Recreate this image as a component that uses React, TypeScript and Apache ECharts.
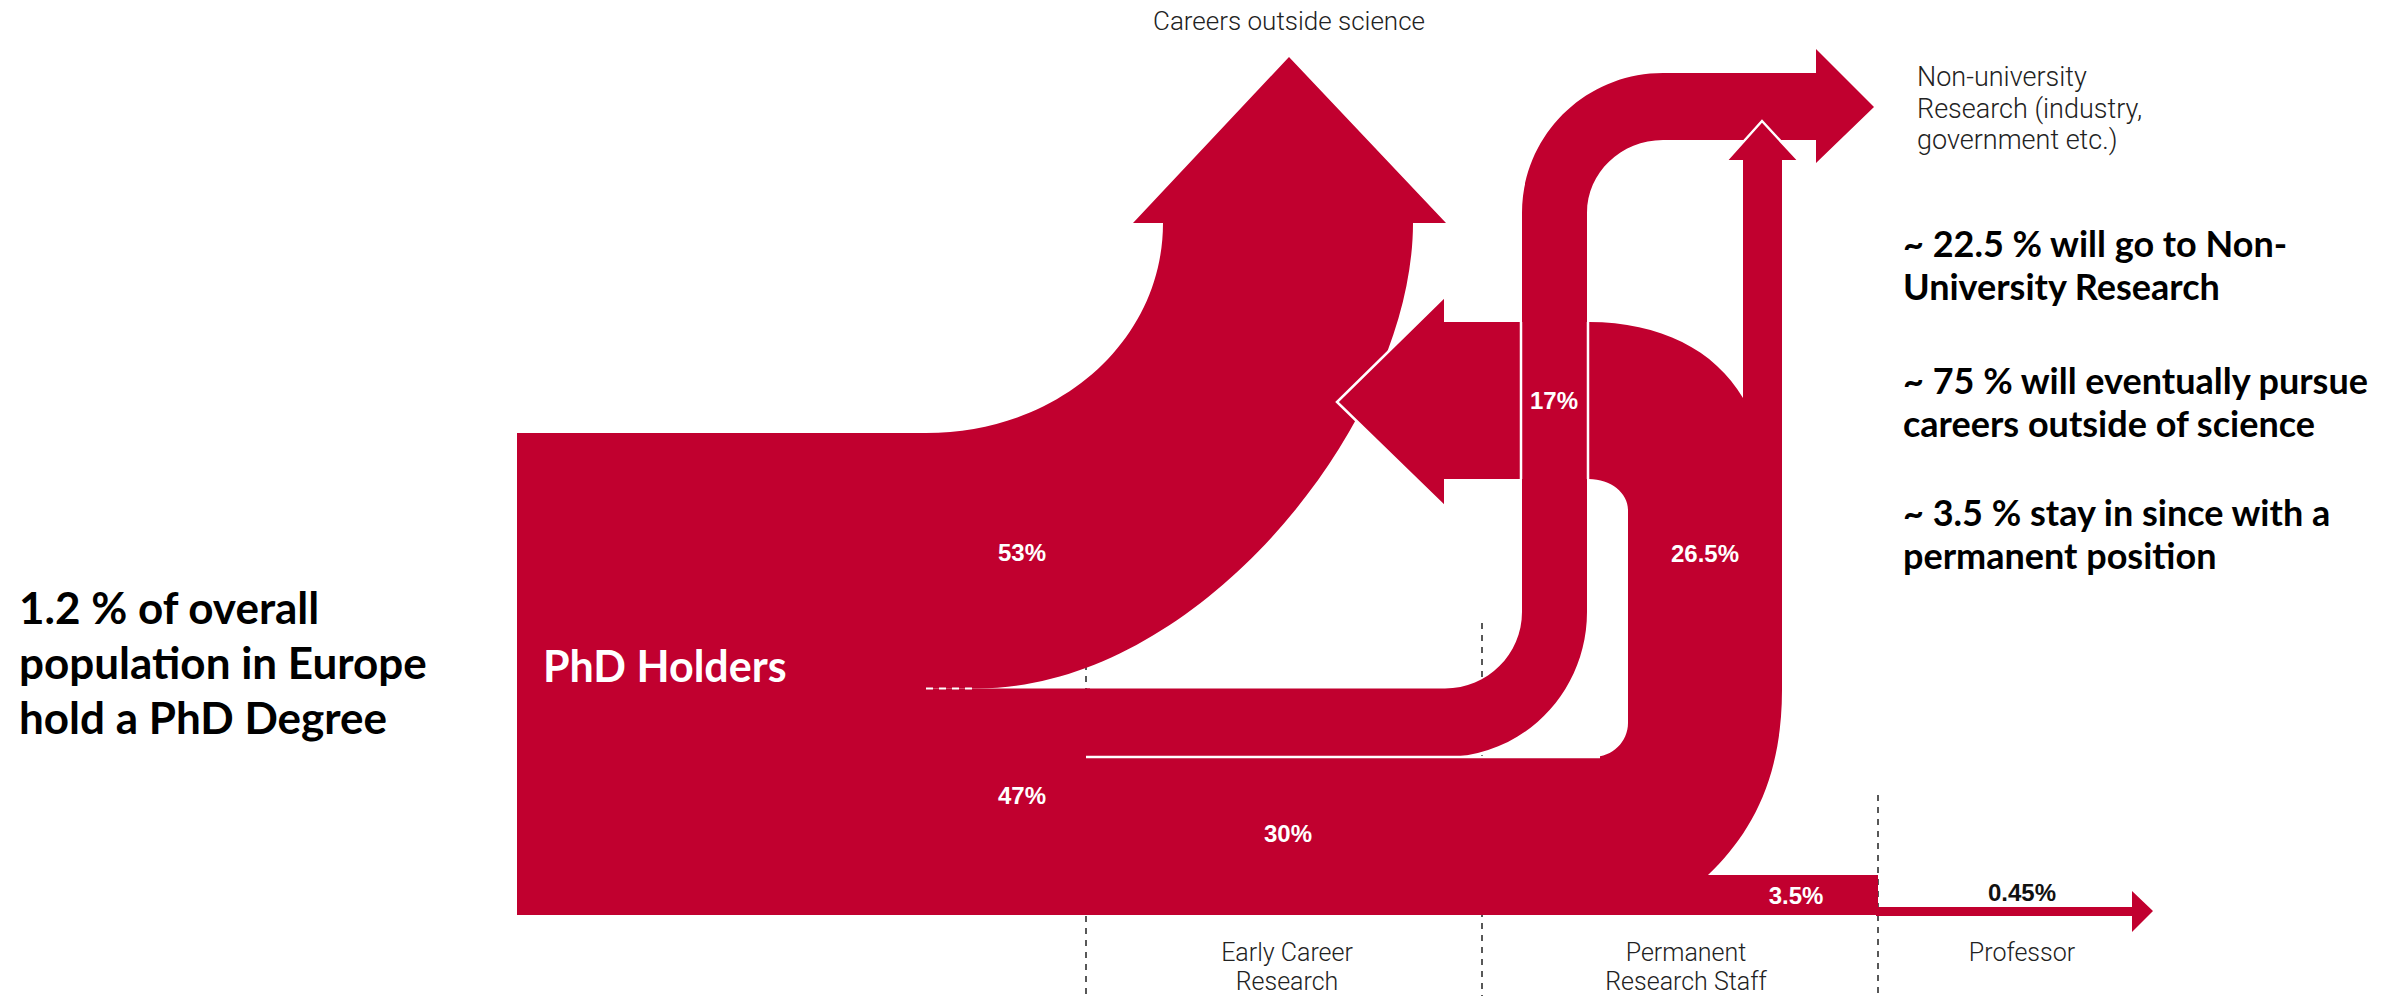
import React, { useEffect, useRef } from "react";
import * as echarts from "echarts";

// ---------------- data ----------------
const sourceLabel = "PhD Holders";
const flowNames = ["node", "toCareers", "toResearch", "toPermanent", "toNonUniversity", "toProfessor"];
const flowLabels = ["53%", "47%", "17%", "30%", "26.5%", "3.5%", "0.45%"];
const flowValues = [53, 47, 17, 30, 26.5, 3.5, 0.45];
const stageLabels = ["Early Career\nResearch", "Permanent\nResearch Staff", "Professor"];
const destinationLabels = ["Careers outside science", "Non-university\nResearch (industry,\ngovernment etc.)"];
const leftNoteLines = ["1.2 % of overall", "population in Europe", "hold a PhD Degree"];
const rightNoteParagraphs = [
  ["~ 22.5 % will go to Non-", "University Research"],
  ["~ 75 % will eventually pursue", "careers outside of science"],
  ["~ 3.5 % stay in since with a", "permanent position"],
];

// ---------------- layout (design pixels, mapped through the axes) ----------------
const WIDTH = 2384;
const HEIGHT = 996;
const RED = "#C1002F";
const NODE = { x0: 517, x1: 926, y0: 433, y1: 915 };
const SPLIT = NODE.y0 + ((NODE.y1 - NODE.y0) * flowValues[0]) / 100;

type Seg = (string | number)[];

const shapes: Record<string, Seg[]> = {
  node: [["M", NODE.x0, NODE.y0], ["L", NODE.x1, NODE.y0], ["L", NODE.x1, NODE.y1], ["L", NODE.x0, NODE.y1], ["Z"]],
  toCareers: [
    ["M", 924, NODE.y0], ["L", 926, NODE.y0], ["C", 1060, NODE.y0, 1163, 340, 1163, 223],
    ["L", 1133, 223], ["L", 1289, 57], ["L", 1446, 223], ["L", 1413, 223],
    ["C", 1413, 420, 1200, SPLIT, 977, SPLIT], ["L", 924, SPLIT], ["Z"],
  ],
  toResearch: [["M", 924, SPLIT], ["L", 1090, SPLIT], ["L", 1090, NODE.y1], ["L", 924, NODE.y1], ["Z"]],
  toPermanent: [
    ["M", 1086, 757], ["L", 1593, 757], ["K", 1628, 757, 1628, 723], ["L", 1628, 510],
    ["K", 1628, 479, 1589, 479], ["L", 1444, 479], ["L", 1444, 506], ["L", 1337, 402],
    ["L", 1444, 297], ["L", 1444, 322], ["L", 1589, 322], ["C", 1660, 322, 1715, 350, 1743, 398],
    ["L", 1743, 160], ["L", 1782, 160], ["L", 1782, 690], ["C", 1782, 780, 1750, 835, 1708, 875],
    ["L", 1878, 875], ["L", 1878, NODE.y1], ["L", 1086, NODE.y1], ["Z"],
  ],
  toNonUniversity: [
    ["M", 1086, SPLIT], ["L", 1445, SPLIT], ["K", 1522, SPLIT, 1522, 612], ["L", 1522, 213],
    ["K", 1522, 73, 1663, 73], ["L", 1816, 73], ["L", 1816, 49], ["L", 1874, 107], ["L", 1816, 163],
    ["L", 1816, 140], ["L", 1663, 140], ["K", 1587, 140, 1587, 213], ["L", 1587, 612],
    ["K", 1587, 757, 1445, 757], ["L", 1086, 757], ["Z"],
    ["M", 1727, 160], ["L", 1762, 121], ["L", 1798, 160], ["Z"],
  ],
  toProfessor: [
    ["M", 1876, 907], ["L", 2132, 907], ["L", 2132, 891], ["L", 2153, 911], ["L", 2132, 932],
    ["L", 2132, 916], ["L", 1876, 916], ["Z"],
  ],
};

const whiteLines: number[][][] = [
  [[1444, 297], [1337, 402], [1444, 506]],
  [[1727, 160], [1762, 121], [1798, 160]],
  [[1521, 322], [1521, 479]],
  [[1588, 322], [1588, 479]],
  [[1086, 757], [1600, 757]],
];
const whiteDashed: number[][] = [[926, SPLIT], [978, SPLIT]];

const dividerX = [1086, 1482, 1878];
const dividerTop = [640, 623, 795];
const stageLabelX = [1287, 1686, 2022];
const stageLabelY = 952;
const stageLineHeight = 29;
const labelPos = [[1022, 552], [1022, 795], [1554, 400], [1288, 833], [1705, 553], [1796, 895], [2022, 892]];
const labelColors = ["#fff", "#fff", "#fff", "#fff", "#fff", "#fff", "#111"];

const LABEL_FONT = '"Liberation Sans", Arial, sans-serif';
const CAPTION_FONT = "Roboto, sans-serif";
const NOTE_FONT = "Lato, sans-serif";

function toPath(segs: Seg[], api: any): string {
  let d = "";
  let cur = [0, 0];
  const f = (p: number[]) => {
    const c = api.coord(p);
    return c[0].toFixed(2) + " " + c[1].toFixed(2);
  };
  for (const s of segs) {
    const cmd = s[0] as string;
    const n = s.slice(1) as number[];
    if (cmd === "Z") {
      d += "Z ";
    } else if (cmd === "K") {
      const k = 0.5523;
      const [cx, cy, x, y] = n;
      const c1 = [cur[0] + k * (cx - cur[0]), cur[1] + k * (cy - cur[1])];
      const c2 = [x + k * (cx - x), y + k * (cy - y)];
      d += "C" + [c1, c2, [x, y]].map(f).join(" ") + " ";
      cur = [x, y];
    } else {
      const pts: number[][] = [];
      for (let i = 0; i < n.length; i += 2) pts.push([n[i], n[i + 1]]);
      d += cmd + pts.map(f).join(" ") + " ";
      cur = pts[pts.length - 1];
    }
  }
  return d;
}

function buildOption(): any {
  const graphic: any[] = [];
  leftNoteLines.forEach((t, i) => {
    graphic.push({
      type: "text", x: 19, y: 607 + i * 55,
      style: { text: t, fill: "#000", fontFamily: NOTE_FONT, fontWeight: "bold", fontSize: 44, align: "left", verticalAlign: "middle" },
    });
  });
  const paraY = [243, 380, 512];
  rightNoteParagraphs.forEach((p, pi) => {
    p.forEach((t, li) => {
      graphic.push({
        type: "text", x: 1903, y: paraY[pi] + li * 43,
        style: { text: t, fill: "#000", fontFamily: NOTE_FONT, fontWeight: "bold", fontSize: 36, align: "left", verticalAlign: "middle" },
      });
    });
  });
  graphic.push({
    type: "text", x: 1289, y: 21,
    style: { text: destinationLabels[0], fill: "#222", fontFamily: CAPTION_FONT, fontWeight: 300, fontSize: 26, align: "center", verticalAlign: "middle" },
  });
  destinationLabels[1].split("\n").forEach((t, i) => {
    graphic.push({
      type: "text", x: 1917, y: 77 + i * 31.5,
      style: { text: t, fill: "#222", fontFamily: CAPTION_FONT, fontWeight: 300, fontSize: 27, align: "left", verticalAlign: "middle" },
    });
  });

  return {
    animation: false,
    backgroundColor: "#fff",
    grid: { left: 0, right: 0, top: 0, bottom: 0 },
    xAxis: { type: "value", min: 0, max: WIDTH, show: false },
    yAxis: { type: "value", min: 0, max: HEIGHT, inverse: true, show: false },
    graphic,
    series: [
      {
        type: "custom", name: "stages", z: 1, clip: false, silent: true,
        data: stageLabels.map((s, i) => ({ name: s, value: [i, 0] })),
        renderItem: (params: any, api: any) => {
          const i = params.dataIndex;
          const a = api.coord([dividerX[i], dividerTop[i]]);
          const b = api.coord([dividerX[i], HEIGHT]);
          const lines = stageLabels[i].split("\n");
          return {
            type: "group",
            children: [
              { type: "line", shape: { x1: a[0], y1: a[1], x2: b[0], y2: b[1] }, style: { stroke: "#222", lineWidth: 1.5, lineDash: [6, 6] } },
              ...lines.map((t, li) => {
                const p = api.coord([stageLabelX[i], stageLabelY + li * stageLineHeight]);
                return {
                  type: "text", x: p[0], y: p[1],
                  style: { text: t, fill: "#222", fontFamily: CAPTION_FONT, fontWeight: 300, fontSize: 25, lineHeight: 26, align: "center", verticalAlign: "middle" },
                };
              }),
            ],
          };
        },
      },
      {
        type: "custom", name: "flows", z: 2, clip: false, silent: true,
        data: flowNames.map((n, i) => ({ name: n, value: [i, 0] })),
        renderItem: (params: any, api: any) => {
          const key = flowNames[params.dataIndex];
          const children: any[] = [
            { type: "path", shape: { pathData: toPath(shapes[key], api) }, style: { fill: RED, stroke: null } },
          ];
          if (key === "node") {
            const p = api.coord([543, 665]);
            children.push({
              type: "text", x: p[0], y: p[1], z2: 10,
              style: { text: sourceLabel, fill: "#fff", fontFamily: NOTE_FONT, fontWeight: "bold", fontSize: 43, align: "left", verticalAlign: "middle" },
            });
          }
          return { type: "group", children };
        },
      },
      {
        type: "custom", name: "separators", z: 3, clip: false, silent: true,
        data: [{ value: [0, 0] }],
        renderItem: (params: any, api: any) => {
          const children: any[] = whiteLines.map((pts) => ({
            type: "polyline",
            shape: { points: pts.map((p) => api.coord(p)) },
            style: { stroke: "#fff", lineWidth: 2.5, fill: null },
          }));
          children.push({
            type: "polyline",
            shape: { points: whiteDashed.map((p) => api.coord(p)) },
            style: { stroke: "#fff", lineWidth: 2, lineDash: [7, 6], fill: null },
          });
          return { type: "group", children };
        },
      },
      {
        type: "custom", name: "labels", z: 4, clip: false, silent: true,
        data: flowLabels.map((l, i) => ({ name: l, value: [i, flowValues[i]] })),
        renderItem: (params: any, api: any) => {
          const i = params.dataIndex;
          const p = api.coord(labelPos[i]);
          return {
            type: "text", x: p[0], y: p[1],
            style: { text: flowLabels[i], fill: labelColors[i], fontFamily: LABEL_FONT, fontWeight: "bold", fontSize: 24, align: "center", verticalAlign: "middle" },
          };
        },
      },
    ],
  };
}

export default function App() {
  const ref = useRef<HTMLDivElement>(null);
  useEffect(() => {
    if (!ref.current) return;
    const chart = echarts.init(ref.current, null, { renderer: "svg" });
    chart.setOption(buildOption());
    return () => chart.dispose();
  }, []);
  return (
    <div
      ref={ref}
      style={{ position: "absolute", left: 0, top: 0, width: WIDTH, height: HEIGHT, background: "#fff" }}
    />
  );
}
